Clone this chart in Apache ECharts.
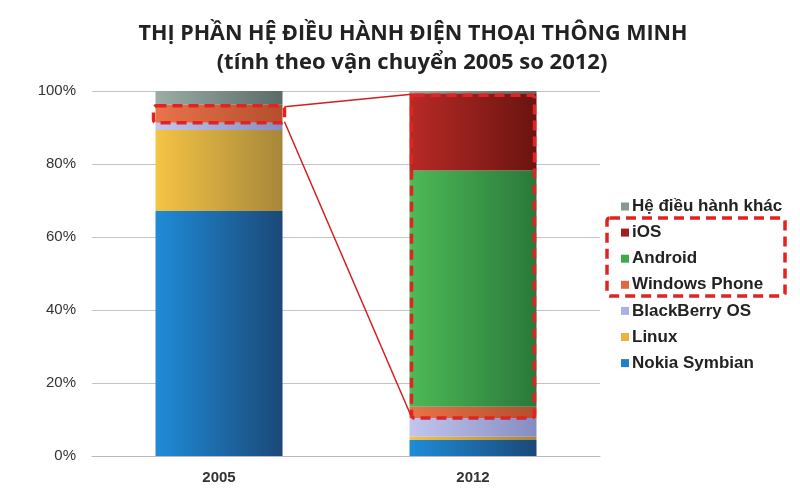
<!DOCTYPE html>
<html><head><meta charset="utf-8">
<script src="https://cdn.jsdelivr.net/npm/echarts@6/dist/echarts.min.js"></script>
<style>html,body{margin:0;padding:0;background:#fff}#c{width:800px;height:492px}</style>
</head><body><div id="c"></div>
<script>
const categories = ['2005', '2012'];
const symbian = [67.1, 4.4];
const linux = [22.2, 0.9];
const blackberry = [2.0, 5.1];
const windowsPhone = [4.9, 3.1];
const android = [0, 64.7];
const ios = [0, 21.2];
const other = [3.8, 0.6];
const yTicks = [0, 20, 40, 60, 80, 100];

const names = ['Nokia Symbian','Linux','BlackBerry OS','Windows Phone','Android','iOS','Hệ điều hành khác'];
const values = [symbian, linux, blackberry, windowsPhone, android, ios, other];
const colors = [
  ['#1f8cd8','#1b4878'],
  ['#f5c445','#a6873a'],
  ['#c2c6ee','#858cc2'],
  ['#ea734a','#b44e2c'],
  ['#4dba57','#2a783a'],
  ['#b82a26','#6a1410'],
  ['#9caca6','#5b6b66']
];
const flat = ['#1f7fc8','#e8b43c','#aab0e0','#e06a40','#3daa4c','#a02020','#8a9894'];

const chart = echarts.init(document.getElementById('c'));
const series = names.map((n,i)=>({
  name:n, type:'bar', stack:'s', barWidth:'50%',
  data: values[i],
  itemStyle:{color:new echarts.graphic.LinearGradient(0,0,1,0,[{offset:0,color:colors[i][0]},{offset:1,color:colors[i][1]}])}
}));
chart.setOption({
  animation:false,
  title:[
    {text:'THỊ PHẦN HỆ ĐIỀU HÀNH ĐIỆN THOẠI THÔNG MINH', left:408, textAlign:'center', top:18,
     textStyle:{fontFamily:'Open Sans', fontWeight:'bold', fontSize:21.5, color:'#222'}},
    {text:'(tính theo vận chuyển 2005 so 2012)', left:407, textAlign:'center', top:47,
     textStyle:{fontFamily:'Open Sans', fontWeight:'bold', fontSize:22, color:'#222'}}
  ],
  legend:{
    orient:'vertical', left:621, top:198, padding:0, itemWidth:8, itemHeight:8, itemGap:9.1,
    icon:'rect',
    data: names.slice().reverse().map((n)=>({name:n, itemStyle:{color:flat[names.indexOf(n)]}})),
    textStyle:{fontFamily:'Liberation Sans', fontWeight:'bold', fontSize:17, color:'#222', padding:[0,0,0,-2]}
  },
  grid:{left:92, right:200, top:91, bottom:36},
  xAxis:{type:'category', data:categories,
    axisLine:{lineStyle:{color:'#bbb'}}, axisTick:{show:false},
    axisLabel:{fontFamily:'Liberation Sans', fontWeight:'bold', fontSize:15, color:'#333', margin:14}},
  yAxis:{type:'value', min:yTicks[0], max:yTicks[yTicks.length-1], interval:yTicks[1]-yTicks[0],
    axisLine:{show:false}, axisTick:{show:false},
    axisLabel:{formatter:'{value}%', fontFamily:'Liberation Sans', fontSize:15, color:'#333', margin:16},
    splitLine:{lineStyle:{color:'#c4c4c4'}}},
  series: series
});

// annotation boxes derived from the data via the chart's scales
function px(ci, v){ return chart.convertToPixel({seriesIndex:0}, [ci, v]); }
const c0 = px(0, 0), c1 = px(1, 0);
const half = (c1[0]-c0[0]) * 0.25;
const cum = (ci, k) => values.slice(0, k).reduce((s,a)=>s+a[ci], 0);
const b05lo = px(0, cum(0,3))[1], b05hi = px(0, cum(0,4))[1];
const b12lo = px(1, cum(1,3))[1], b12hi = px(1, cum(1,6))[1];
const red = '#e02424';
const dash = {stroke:red, lineWidth:3.5, lineDash:[10,6], fill:null};
const L05 = c0[0]-half-2, R05 = c0[0]+half+2;
const L12 = c1[0]-half+2, R12 = c1[0]+half-2;
chart.setOption({graphic:[
  {type:'line', shape:{x1:R05, y1:b05hi+2, x2:L12, y2:b12hi+1}, style:{stroke:'#d02020', lineWidth:1.5}, z:100},
  {type:'line', shape:{x1:R05, y1:b05lo-1, x2:L12, y2:b12lo-1}, style:{stroke:'#d02020', lineWidth:1.5}, z:100},
  {type:'rect', shape:{x:L05, y:b05hi+1, width:R05-L05, height:b05lo-b05hi-1, r:3}, style:dash, z:101},
  {type:'rect', shape:{x:L12, y:b12hi+2, width:R12-L12, height:b12lo-b12hi-2, r:3}, style:dash, z:101},
  {type:'rect', shape:{x:607, y:218, width:178, height:78, r:3}, style:dash, z:101}
]});
</script></body></html>
